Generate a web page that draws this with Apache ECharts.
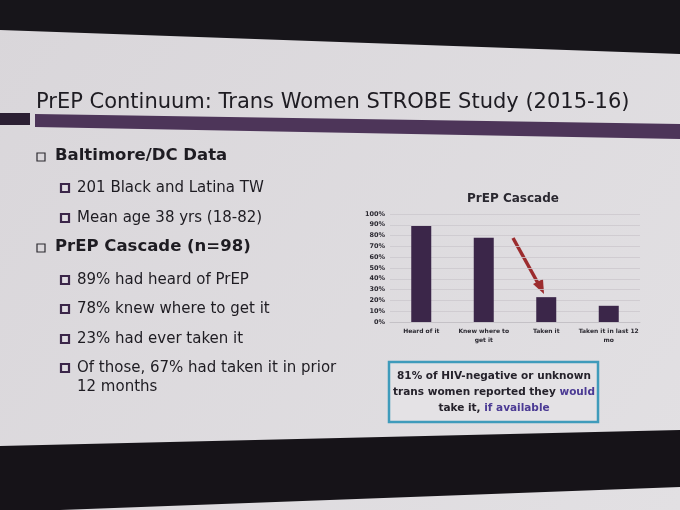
<!DOCTYPE html>
<html>
<head>
<meta charset="utf-8">
<style>
    html, body { margin: 0; padding: 0; background: #1a171c; }
    #chartRoot { width: 680px; height: 510px; }
</style>
<script src="https://cdn.jsdelivr.net/npm/echarts@6/dist/echarts.min.js"></script>
</head>
<body>
<div id="chartRoot"></div>
<script>
    // chart data
    const categories = ["Heard of it", "Knew where to\nget it", "Taken it", "Taken it in last 12\nmo"];
    const cascadeValues = [89, 78, 23, 15];

    // slide text
    const slideTitle = "PrEP Continuum: Trans Women STROBE Study (2015-16)";
    const bulletLines = [
        {level: 1, text: "Baltimore/DC Data"},
        {level: 2, text: "201 Black and Latina TW"},
        {level: 2, text: "Mean age 38 yrs (18-82)"},
        {level: 1, text: "PrEP Cascade (n=98)"},
        {level: 2, text: "89% had heard of PrEP"},
        {level: 2, text: "78% knew where to get it"},
        {level: 2, text: "23% had ever taken it"},
        {level: 2, text: "Of those, 67% had taken it in prior\n12 months"}
    ];
    const bulletY = [157, 188, 218, 248, 280, 309, 339, 368];

    const fontName = "DejaVu Sans";
    const purple = "#3b2649";

    let chartDom = document.querySelector("#chartRoot");
    let myChart = echarts.init(chartDom);

    let graphics = [];

    // slide background and dark screen edges
    graphics.push({
        type: "rect", z: -10, silent: true,
        shape: {x: 0, y: 0, width: 680, height: 510},
        style: {fill: new echarts.graphic.LinearGradient(0, 0, 1, 1, [
            {offset: 0, color: "#d9d6da"},
            {offset: 1, color: "#e2e0e3"}
        ])}
    });
    graphics.push({
        type: "polygon", z: -5, silent: true,
        shape: {points: [[0, 0], [680, 0], [680, 54], [0, 30]]},
        style: {fill: "#17151a"}
    });
    graphics.push({
        type: "polygon", z: -5, silent: true,
        shape: {points: [[0, 446], [680, 430], [680, 487], [60, 510], [0, 510]]},
        style: {fill: "#161318"}
    });

    // title and purple band
    graphics.push({
        type: "text", left: 36, top: 92,
        style: {text: slideTitle, font: "21px " + fontName, fill: "#1e1c22"}
    });
    graphics.push({
        type: "polygon", silent: true,
        shape: {points: [[0, 113], [30, 113], [30, 125], [0, 125]]},
        style: {fill: "#2b1f33"}
    });
    graphics.push({
        type: "polygon", silent: true,
        shape: {points: [[35, 114], [680, 124], [680, 139], [35, 127]]},
        style: {fill: "#4d3559"}
    });

    // bullets
    for(let i in bulletLines){
        let item = bulletLines[i];
        let y = bulletY[i];
        if(item.level == 1){
            graphics.push({
                type: "rect",
                shape: {x: 37, y: y - 4, width: 8, height: 8},
                style: {fill: "none", stroke: "#2c2a30", lineWidth: 1.2}
            });
            graphics.push({
                type: "text", left: 55, top: y - 10,
                style: {text: item.text, font: "bold 16.5px " + fontName, fill: "#1e1c22"}
            });
        } else {
            graphics.push({
                type: "rect",
                shape: {x: 61, y: y - 4, width: 8, height: 8},
                style: {fill: "#e0dde2", stroke: purple, lineWidth: 2.2}
            });
            graphics.push({
                type: "text", left: 77, top: y - 9,
                style: {text: item.text, font: "15px " + fontName, fill: "#1e1c22", lineHeight: 19}
            });
        }
    }

    // red arrow from "Knew where" to "Taken it"
    graphics.push({
        type: "line",
        shape: {x1: 513, y1: 238, x2: 539, y2: 285},
        style: {stroke: "#9c2c2e", lineWidth: 3.5}
    });
    graphics.push({
        type: "polygon",
        shape: {points: [[544, 294], [533, 284], [543, 279]]},
        style: {fill: "#9c2c2e"}
    });

    // callout box
    graphics.push({
        type: "rect",
        shape: {x: 389, y: 362, width: 209, height: 60},
        style: {fill: "#e4e2e5", stroke: "#3f9bbb", lineWidth: 2.5}
    });
    graphics.push({
        type: "text", x: 494, y: 368,
        style: {
            text: "81% of HIV-negative or unknown\ntrans women reported they {hl|would}\ntake it, {hl|if available}",
            font: "bold 10.5px " + fontName,
            fill: "#25222b",
            align: "center",
            verticalAlign: "top",
            lineHeight: 16,
            rich: {hl: {fill: "#4b3a94", font: "bold 10.5px " + fontName}}
        }
    });

    let option = {
        animation: false,
        backgroundColor: "transparent",
        title: {
            text: "PrEP Cascade",
            left: 508,
            top: 188,
            textAlign: "center",
            textStyle: {fontFamily: fontName, fontWeight: "bold", fontSize: 12, color: "#2a2830"}
        },
        grid: {left: 390, right: 40, top: 214, bottom: 188},
        xAxis: {
            type: "category",
            data: categories,
            axisTick: {show: false},
            axisLine: {lineStyle: {color: "#c4c1c6"}},
            axisLabel: {
                interval: 0,
                fontFamily: fontName,
                fontWeight: "bold",
                fontSize: 6,
                lineHeight: 9,
                color: "#2a2830",
                margin: 5
            }
        },
        yAxis: {
            type: "value",
            min: 0,
            max: 100,
            interval: 10,
            axisLabel: {
                formatter: "{value}%",
                fontFamily: fontName,
                fontWeight: "bold",
                fontSize: 6.5,
                color: "#2a2830",
                margin: 5
            },
            splitLine: {lineStyle: {color: "#cbc8cd", width: 0.8}}
        },
        series: [{
            type: "bar",
            data: cascadeValues,
            barWidth: 20,
            itemStyle: {color: purple}
        }],
        graphic: graphics
    };
    myChart.setOption(option);
</script>
</body>
</html>
